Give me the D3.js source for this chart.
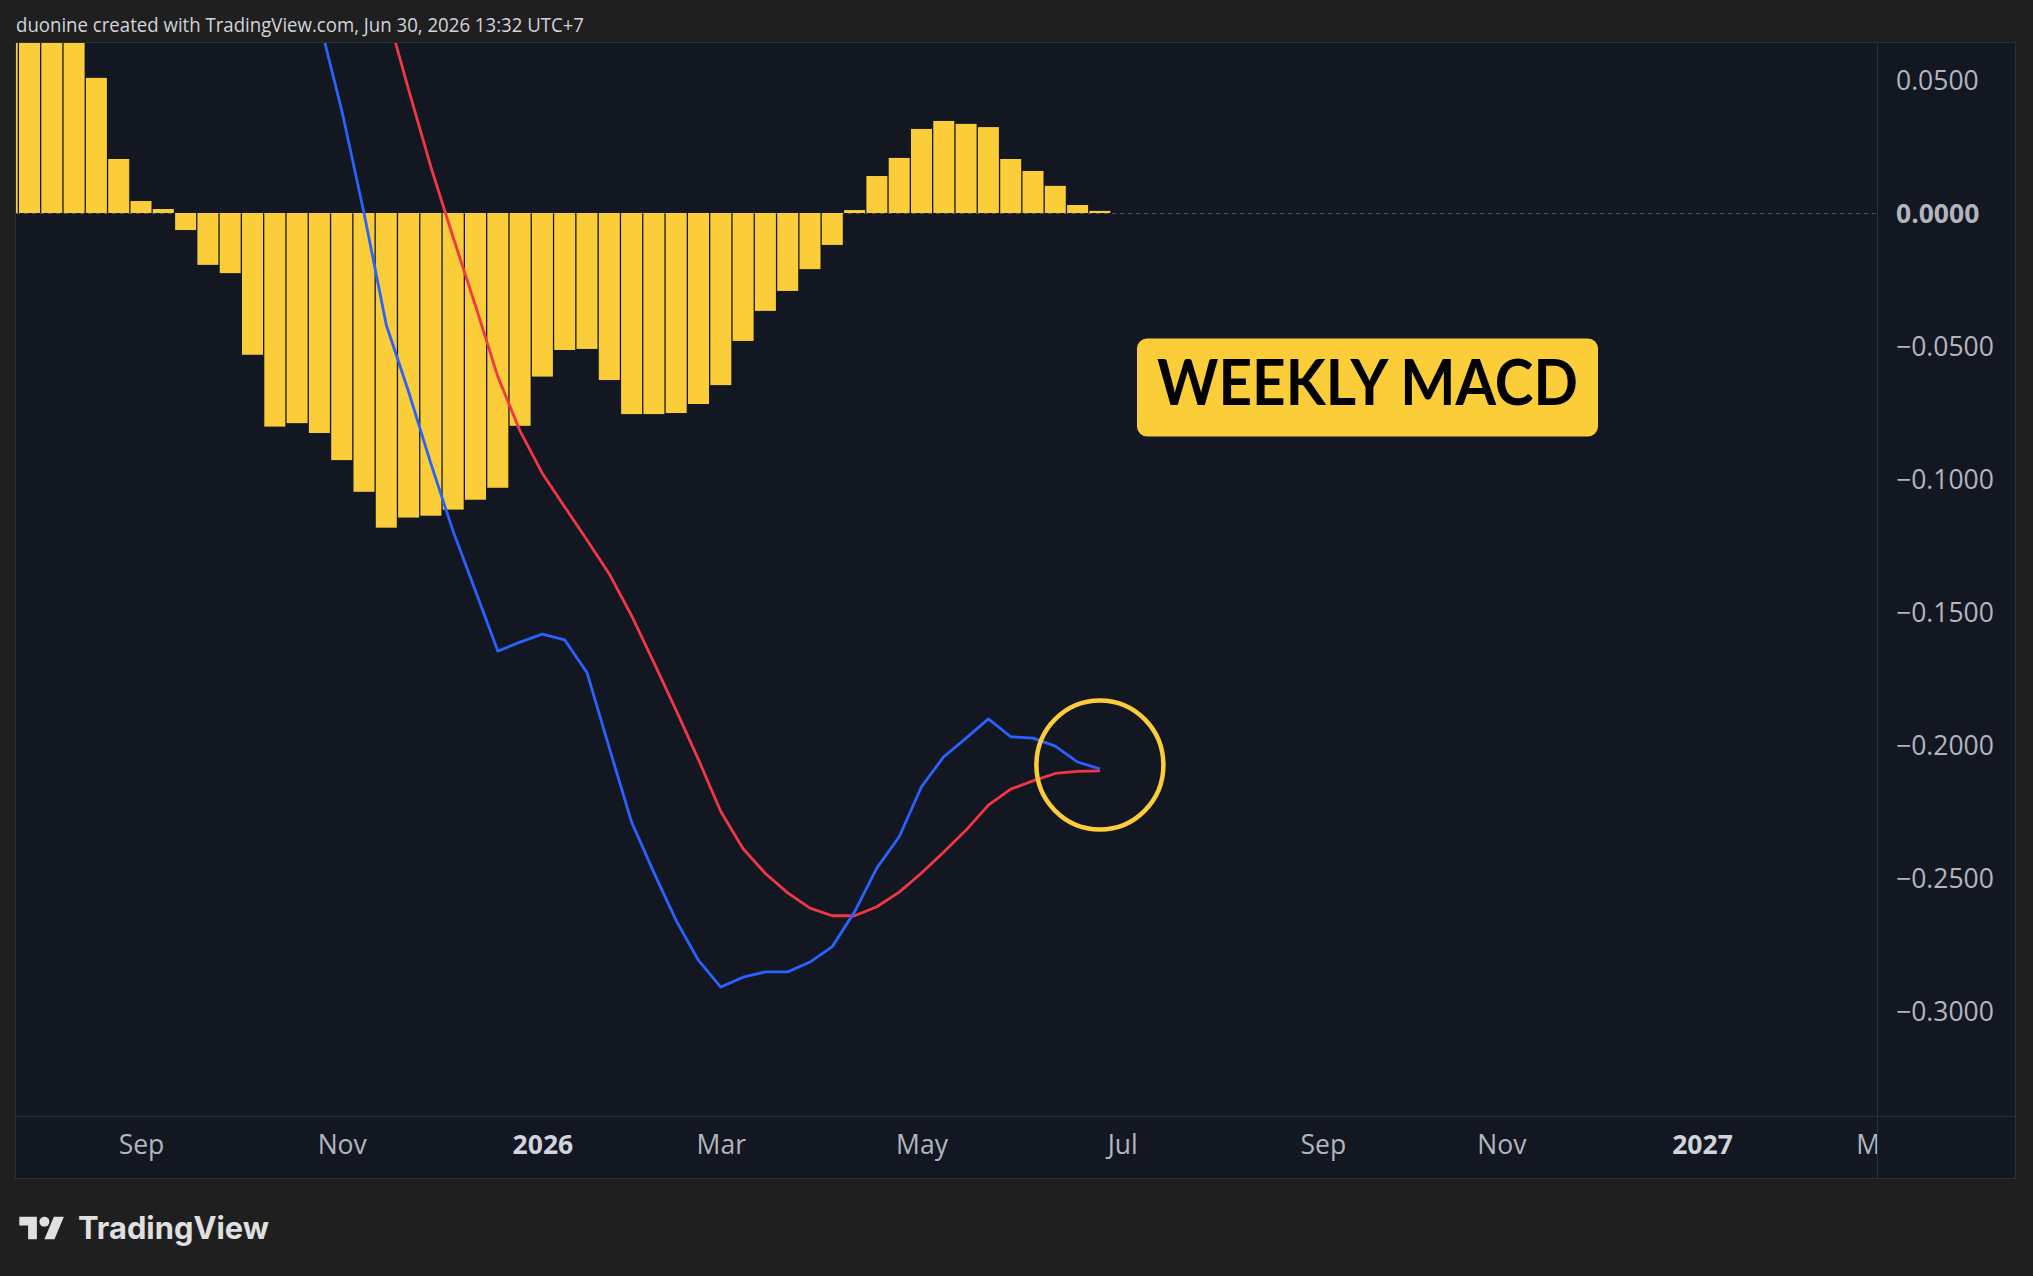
<!DOCTYPE html>
<html>
<head>
<meta charset="utf-8">
<script src="https://cdn.jsdelivr.net/npm/d3@7"></script>
<style>
  body { margin: 0; background: #1f1f1f; }
  svg { display: block; }
</style>
</head>
<body>
<div id="chart"></div>
<script>
// weekly bars, Monday open, Jul 21 2025 .. Jun 29 2026
const weeks = d3.utcMonday.range(new Date(Date.UTC(2025, 6, 21)), new Date(Date.UTC(2026, 6, 1)));

// MACD histogram (first four bars run off the top of the pane)
const histogram = [
  0.095, 0.088, 0.080, 0.070, 0.0508, 0.0203, 0.0045, 0.0015, -0.0064, -0.0195,
  -0.0226, -0.0533, -0.0803, -0.0790, -0.0827, -0.0929, -0.1048, -0.1183, -0.1145, -0.1138,
  -0.1115, -0.1078, -0.1033, -0.0800, -0.0615, -0.0515, -0.0511, -0.0628, -0.0756, -0.0756,
  -0.0752, -0.0718, -0.0647, -0.0481, -0.0368, -0.0293, -0.0211, -0.0120, 0.0011, 0.0139,
  0.0207, 0.0316, 0.0346, 0.0335, 0.0323, 0.0203, 0.0158, 0.0102, 0.0030, 0.0008
];

// MACD line (blue), null where it is above the pane
const macd = [
  null, null, null, null, null, null, null, null, null, null, null, null, null,
  0.098, 0.0722, 0.0387, 0.0, -0.0421, -0.0672, -0.0942, -0.1197, -0.1421, -0.1647,
  -0.1613, -0.1583, -0.1605, -0.1728, -0.2011, -0.2290, -0.2480, -0.2660, -0.2810, -0.2910,
  -0.2873, -0.2853, -0.2853, -0.2816, -0.2758, -0.2627, -0.2462, -0.2345, -0.2157, -0.2044,
  -0.1974, -0.1902, -0.1969, -0.1974, -0.2004, -0.2064, -0.2090
];

// signal line (red)
const signal = [
  null, null, null, null, null, null, null, null, null, null, null, null, null,
  0.177, 0.1549, 0.1316, 0.1048, 0.0765, 0.0464, 0.0173, -0.0092, -0.0348, -0.0615,
  -0.0820, -0.0979, -0.1105, -0.1229, -0.1357, -0.1514, -0.1690, -0.1870, -0.2055, -0.2250,
  -0.2390, -0.2483, -0.2556, -0.2613, -0.2642, -0.2642, -0.2608, -0.2553, -0.2481, -0.2402,
  -0.2320, -0.2226, -0.2166, -0.2135, -0.2107, -0.2099, -0.2097
];

const priceTicks = [0.05, 0, -0.05, -0.1, -0.15, -0.2, -0.25, -0.3];
const timeTicks = ["2025-09-01", "2025-11-03", "2026-01-05", "2026-03-02", "2026-05-04",
                   "2026-07-06", "2026-09-07", "2026-11-02", "2027-01-04", "2027-03-01"];
const timeLabels = ["Sep", "Nov", "2026", "Mar", "May", "Jul", "Sep", "Nov", "2027", "Mar"];

const W = 2033, H = 1276;
const pane = { left: 16, right: 1877, top: 43, bottom: 1116, axisRight: 2016, axisBottom: 1179 };
const yellow = "#fbcd38";
const font = "'Open Sans', 'Noto Sans', sans-serif";

const svg = d3.select("#chart").append("svg")
  .attr("width", W)
  .attr("height", H);

svg.append("rect").attr("width", W).attr("height", H).attr("fill", "#1f1f1f");

// header
svg.append("text")
  .attr("x", 16).attr("y", 31.5)
  .attr("font-family", font).attr("font-size", 20)
  .attr("fill", "#d1d4dc")
  .attr("textLength", 568).attr("lengthAdjust", "spacingAndGlyphs")
  .text("duonine created with TradingView.com, Jun 30, 2026 13:32 UTC+7");

// chart panel
svg.append("rect")
  .attr("x", pane.left - 0.5).attr("y", pane.top - 0.5)
  .attr("width", pane.axisRight - pane.left).attr("height", pane.axisBottom - pane.top)
  .attr("fill", "#131722").attr("stroke", "#2a2e39");

svg.append("line")
  .attr("x1", pane.right + 0.5).attr("x2", pane.right + 0.5)
  .attr("y1", pane.top).attr("y2", pane.axisBottom)
  .attr("stroke", "#2a2e39");
svg.append("line")
  .attr("x1", pane.left).attr("x2", pane.axisRight)
  .attr("y1", pane.bottom + 0.5).attr("y2", pane.bottom + 0.5)
  .attr("stroke", "#2a2e39");

// scales
const x = d3.scaleUtc()
  .domain([new Date(Date.UTC(2025, 8, 1)), new Date(Date.UTC(2027, 0, 4))])
  .range([141, 1702]);
const y = d3.scaleLinear()
  .domain([0, -0.3])
  .range([213, 1011]);

const defs = svg.append("defs");
defs.append("clipPath").attr("id", "plot-clip").append("rect")
  .attr("x", pane.left).attr("y", pane.top)
  .attr("width", pane.right - pane.left).attr("height", pane.bottom - pane.top);
defs.append("clipPath").attr("id", "time-clip").append("rect")
  .attr("x", pane.left).attr("y", pane.bottom)
  .attr("width", pane.right - pane.left).attr("height", pane.axisBottom - pane.bottom);

const plot = svg.append("g").attr("clip-path", "url(#plot-clip)");

// zero line
plot.append("line")
  .attr("x1", pane.left).attr("x2", pane.right)
  .attr("y1", y(0) + 0.5).attr("y2", y(0) + 0.5)
  .attr("stroke", "#4a4f5b").attr("stroke-dasharray", "4 4");

// histogram
const step = x(d3.utcDay.offset(weeks[0], 7)) - x(weeks[0]);
const barW = step - 1.3;
const rows = weeks.map((d, i) => ({ date: d, hist: histogram[i], macd: macd[i], signal: signal[i] }));

plot.append("g")
  .selectAll("rect")
  .data(rows)
  .join("rect")
  .attr("x", d => x(d.date) - barW / 2)
  .attr("width", barW)
  .attr("y", d => Math.min(y(d.hist), y(0)))
  .attr("height", d => Math.abs(y(d.hist) - y(0)))
  .attr("fill", yellow);

// MACD and signal lines
const lineOf = key => d3.line()
  .defined(d => d[key] != null)
  .x(d => x(d.date))
  .y(d => y(d[key]));

plot.append("path")
  .datum(rows)
  .attr("fill", "none")
  .attr("stroke", "#f23645")
  .attr("stroke-width", 2.8)
  .attr("stroke-linejoin", "round")
  .attr("d", lineOf("signal"));

plot.append("path")
  .datum(rows)
  .attr("fill", "none")
  .attr("stroke", "#2962ff")
  .attr("stroke-width", 2.8)
  .attr("stroke-linejoin", "round")
  .attr("d", lineOf("macd"));

// circle around the crossing
const last = rows[rows.length - 1];
plot.append("ellipse")
  .attr("cx", x(last.date))
  .attr("cy", y(-0.2075))
  .attr("rx", 63.5).attr("ry", 64.5)
  .attr("fill", "none")
  .attr("stroke", yellow)
  .attr("stroke-width", 4.5);

// label box
const boxDate = new Date(Date.UTC(2026, 8, 21));
const boxW = 461, boxH = 98;
const bx = x(boxDate), by = y(-0.0656);
plot.append("rect")
  .attr("x", bx - boxW / 2).attr("y", by - boxH / 2)
  .attr("width", boxW).attr("height", boxH)
  .attr("rx", 10)
  .attr("fill", yellow);
plot.append("text")
  .attr("x", bx).attr("y", by + 17.5)
  .attr("text-anchor", "middle")
  .attr("font-family", "Lato, 'Open Sans', sans-serif")
  .attr("font-weight", 700)
  .attr("font-size", 64)
  .attr("fill", "#000")
  .attr("textLength", 421).attr("lengthAdjust", "spacingAndGlyphs")
  .text("WEEKLY MACD");

// price axis
const fmt = v => (v < 0 ? "\u2212" : "") + Math.abs(v).toFixed(4);
const yAxis = svg.append("g")
  .attr("transform", `translate(${pane.right},0)`)
  .call(d3.axisRight(y).tickValues(priceTicks).tickSize(0).tickPadding(19).tickFormat(fmt));
yAxis.select(".domain").remove();
yAxis.selectAll("text")
  .attr("font-family", font)
  .attr("font-size", 26.5)
  .attr("fill", "#b2b5be")
  .attr("font-weight", d => d === 0 ? 700 : 400)
  .attr("dy", "0.36em");

// time axis (clip in page coordinates, axis shifted inside)
const tickDates = timeTicks.map(s => new Date(s + "T00:00:00Z"));
const xAxis = svg.append("g")
  .attr("clip-path", "url(#time-clip)")
  .append("g")
  .attr("transform", `translate(0,${pane.bottom})`)
  .call(d3.axisBottom(x).tickValues(tickDates).tickSize(0).tickPadding(19)
    .tickFormat((d, i) => timeLabels[i]));
xAxis.select(".domain").remove();
xAxis.selectAll("text")
  .attr("font-family", font)
  .attr("font-size", 26.5)
  .attr("fill", (d, i) => /^\d+$/.test(timeLabels[i]) ? "#d1d4dc" : "#b2b5be")
  .attr("font-weight", (d, i) => /^\d+$/.test(timeLabels[i]) ? 700 : 400);

// TradingView logo
const logo = svg.append("g")
  .attr("transform", "translate(19.3,1211.7) scale(1.256)")
  .attr("fill", "#e0e0e0");
logo.append("path").attr("d", "M14 22H7V11H0V4h14v18zM28 22h-8l7.5-18h8L28 22z");
logo.append("circle").attr("cx", 20).attr("cy", 8).attr("r", 4);

svg.append("text")
  .attr("x", 78).attr("y", 1239.3)
  .attr("font-family", "Inter, 'Open Sans', sans-serif")
  .attr("font-weight", 700)
  .attr("font-size", 31)
  .attr("fill", "#e0e0e0")
  .attr("textLength", 191).attr("lengthAdjust", "spacingAndGlyphs")
  .text("TradingView");
</script>
</body>
</html>
